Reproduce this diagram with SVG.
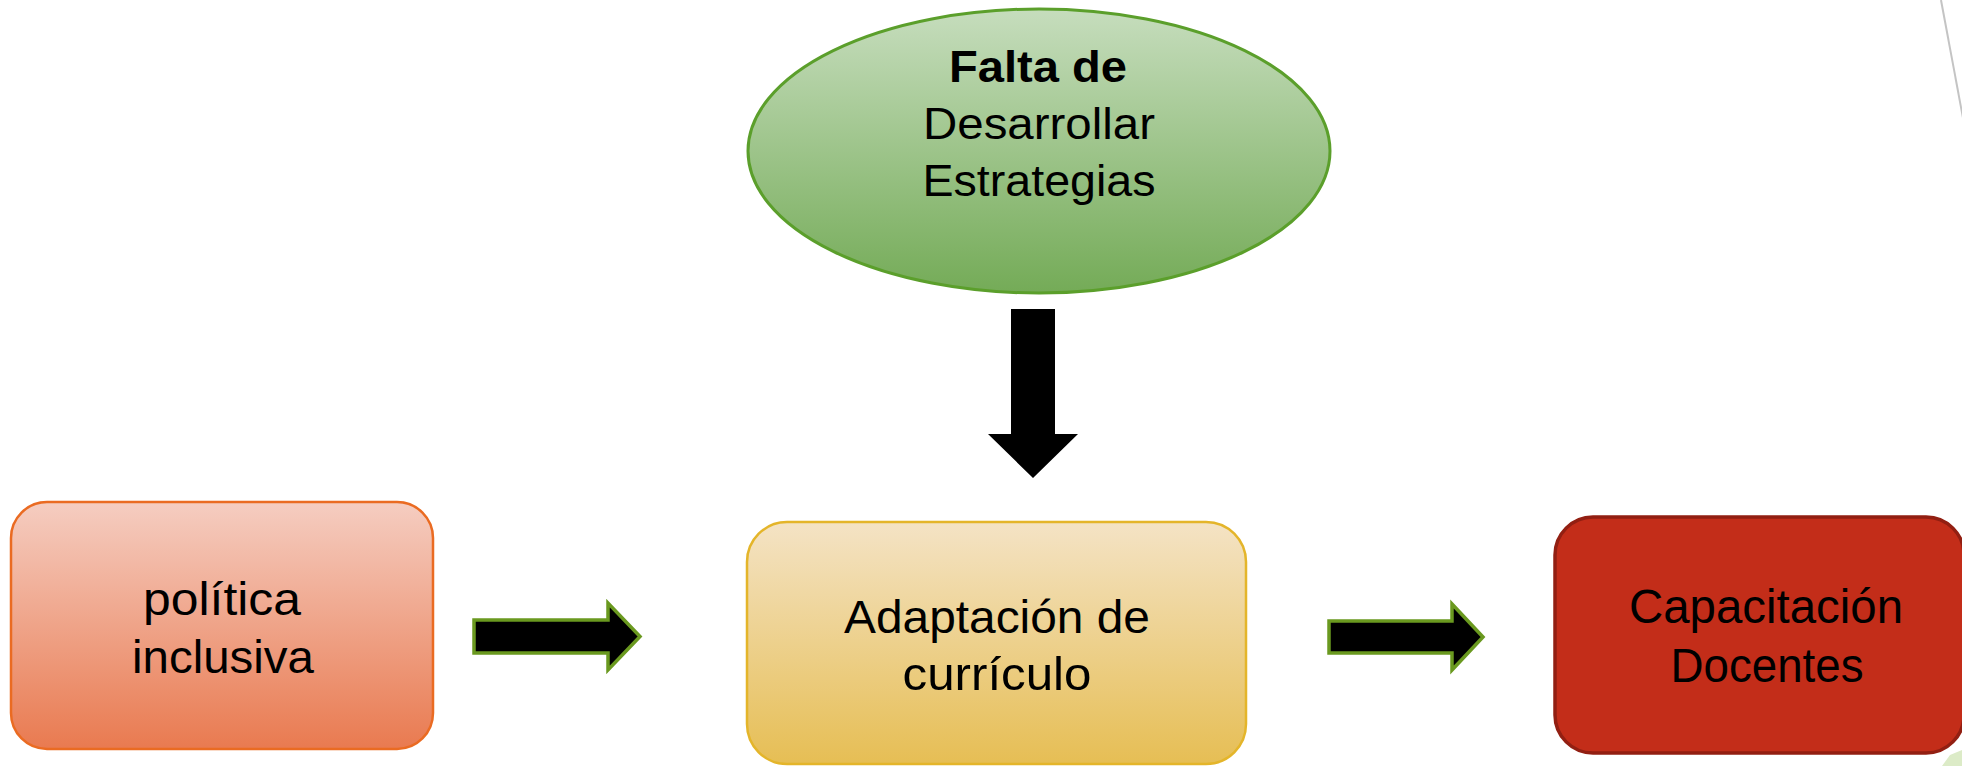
<svg xmlns="http://www.w3.org/2000/svg" width="1962" height="766" viewBox="0 0 1962 766">
  <defs>
    <linearGradient id="gGreen" x1="0" y1="0" x2="0" y2="1">
      <stop offset="0" stop-color="#c6ddbd"/>
      <stop offset="1" stop-color="#74ab57"/>
    </linearGradient>
    <linearGradient id="gOrange" x1="0" y1="0" x2="0" y2="1">
      <stop offset="0" stop-color="#f5cdc1"/>
      <stop offset="1" stop-color="#e97a50"/>
    </linearGradient>
    <linearGradient id="gYellow" x1="0" y1="0" x2="0" y2="1">
      <stop offset="0" stop-color="#f4e3c5"/>
      <stop offset="1" stop-color="#e6be54"/>
    </linearGradient>
    <style>
      .t { font-family: "Liberation Sans", Arial, sans-serif; fill: #000; text-anchor: middle; }
      .arrowH { fill: #000; stroke: #6a991f; stroke-width: 3.5; stroke-linejoin: miter; }
    </style>
  </defs>
  <rect width="1962" height="766" fill="#ffffff"/>
  <g id="decor">
    <line x1="1941" y1="0" x2="1963" y2="118" stroke="#c4c4c4" stroke-width="2"/>
    <polygon points="1942,766 1950,755 1962,750 1962,766" fill="#dcebc7"/>
  </g>
  <g id="node-falta">
    <ellipse cx="1039" cy="151" rx="291" ry="142" fill="url(#gGreen)" stroke="#5b9f2b" stroke-width="3"/>
    <text class="t" x="1038" y="82" font-size="45" font-weight="bold" textLength="178" lengthAdjust="spacingAndGlyphs">Falta de</text>
    <text class="t" x="1039" y="139" font-size="44" textLength="232" lengthAdjust="spacingAndGlyphs">Desarrollar</text>
    <text class="t" x="1039" y="196" font-size="44" textLength="233" lengthAdjust="spacingAndGlyphs">Estrategias</text>
  </g>
  <g id="node-politica">
    <rect x="11" y="502" width="422" height="247" rx="36" fill="url(#gOrange)" stroke="#ea6b22" stroke-width="2.5"/>
    <text class="t" x="222" y="615" font-size="46" textLength="158" lengthAdjust="spacingAndGlyphs">política</text>
    <text class="t" x="223" y="673" font-size="46" textLength="182" lengthAdjust="spacingAndGlyphs">inclusiva</text>
  </g>
  <g id="node-adaptacion">
    <rect x="747" y="522" width="499" height="242" rx="40" fill="url(#gYellow)" stroke="#e4b52a" stroke-width="2.5"/>
    <text class="t" x="997" y="633" font-size="47" textLength="306" lengthAdjust="spacingAndGlyphs">Adaptación de</text>
    <text class="t" x="997" y="690" font-size="47" textLength="189" lengthAdjust="spacingAndGlyphs">currículo</text>
  </g>
  <g id="node-capacitacion">
    <rect x="1555" y="517" width="409" height="236" rx="38" fill="#c32d19" stroke="#921f12" stroke-width="3.5"/>
    <text class="t" x="1766" y="623" font-size="48" textLength="274" lengthAdjust="spacingAndGlyphs">Capacitación</text>
    <text class="t" x="1767" y="682" font-size="48" textLength="193" lengthAdjust="spacingAndGlyphs">Docentes</text>
  </g>
  <g id="connectors">
    <polygon points="1011,309 1055,309 1055,434 1078,434 1033,478 988,434 1011,434" fill="#000"/>
    <polygon class="arrowH" points="474,620 608,620 608,603 640,636.5 608,670 608,653 474,653"/>
    <polygon class="arrowH" points="1329,621 1452,621 1452,604 1483,637 1452,670 1452,653 1329,653"/>
  </g>
</svg>
